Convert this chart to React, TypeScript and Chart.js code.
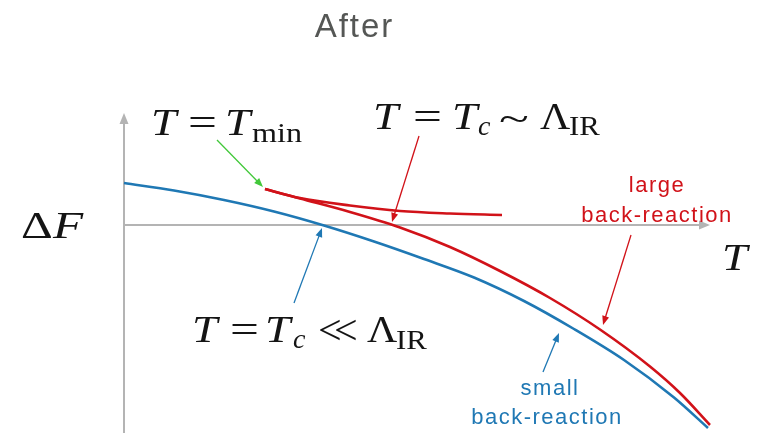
import { useEffect, useRef } from 'react';
import { Chart, registerables } from 'chart.js';

Chart.register(...registerables);

// Free-energy difference ΔF against temperature T (arbitrary units)
const smallT = [0, 0.5, 1.0, 1.5, 2.0, 2.5, 3.0, 3.5, 4.0, 4.5, 5.0, 5.5, 5.84];
const smallF = [0.42, 0.345, 0.25, 0.135, -0.005, -0.165, -0.34, -0.525, -0.76, -1.04, -1.35, -1.725, -2.03];

const largeT = [1.41, 1.76, 2.26, 2.76, 3.26, 3.76, 4.26, 4.76, 5.26, 5.56, 5.86];
const largeF = [0.36, 0.265, 0.13, -0.025, -0.22, -0.46, -0.73, -1.045, -1.415, -1.68, -2.0];

const largeUpperT = [1.41, 1.76, 2.26, 2.76, 3.26, 3.78];
const largeUpperF = [0.36, 0.27, 0.195, 0.14, 0.115, 0.1];

// Visible window of the (T, ΔF) plane
const T_MIN = -1.24;
const T_MAX = 6.37;
const F_MIN = -2.08;
const F_MAX = 2.25;
const T_AXIS_END = 5.86;
const F_AXIS_END = 1.12;

const BLUE = '#1f78b4';
const RED = '#d11219';
const GREEN = '#42c83a';
const GREY = '#b4b4b4';
const INK = '#141414';

type Arrow = { from: [number, number]; to: [number, number]; color: string };
const arrows: Arrow[] = [
  { from: [0.93, 0.85], to: [1.39, 0.38], color: GREEN },
  { from: [2.95, 0.89], to: [2.68, 0.03], color: RED },
  { from: [5.07, -0.1], to: [4.79, -1.0], color: RED },
  { from: [1.7, -0.78], to: [1.98, -0.03], color: BLUE },
  { from: [4.19, -1.47], to: [4.35, -1.08], color: BLUE },
];

const SERIF = '"Liberation Serif", "DejaVu Serif", serif';
const BIG = `38px ${SERIF}`;
const BIG_IT = `italic 38px ${SERIF}`;
const REL = `42px ${SERIF}`;
const SUB = `28px ${SERIF}`;
const SUB_IT = `italic 28px ${SERIF}`;

type Seg = { text: string; dx: number; dy?: number; sx?: number; font: string };
type MathLabel = { at: [number, number]; segs: Seg[] };

const mathLabels: MathLabel[] = [
  {
    at: [0.27, 0.9],
    segs: [
      { text: 'T', dx: 0, sx: 1.2, font: BIG_IT },
      { text: '=', dx: 37, sx: 1.35, font: BIG },
      { text: 'T', dx: 74, sx: 1.2, font: BIG_IT },
      { text: 'min', dx: 101, dy: 7, sx: 1.15, font: SUB },
    ],
  },
  {
    at: [2.49, 0.96],
    segs: [
      { text: 'T', dx: 0, sx: 1.2, font: BIG_IT },
      { text: '=', dx: 40, sx: 1.35, font: BIG },
      { text: 'T', dx: 79, sx: 1.2, font: BIG_IT },
      { text: 'c', dx: 105, dy: 6, font: SUB_IT },
      { text: '~', dx: 126, dy: 2, sx: 1.45, font: BIG },
      { text: 'Λ', dx: 167, sx: 1.1, font: BIG },
      { text: 'IR', dx: 196, dy: 6, sx: 1.1, font: SUB },
    ],
  },
  {
    at: [0.68, -1.17],
    segs: [
      { text: 'T', dx: 0, sx: 1.2, font: BIG_IT },
      { text: '=', dx: 38, sx: 1.35, font: BIG },
      { text: 'T', dx: 73, sx: 1.2, font: BIG_IT },
      { text: 'c', dx: 101, dy: 6, font: SUB_IT },
      { text: '<', dx: 126, dy: 2, font: REL },
      { text: '<', dx: 142, dy: 2, font: REL },
      { text: 'Λ', dx: 175, sx: 1.1, font: BIG },
      { text: 'IR', dx: 204, dy: 7, sx: 1.1, font: SUB },
    ],
  },
  {
    at: [-1.03, -0.13],
    segs: [
      { text: 'Δ', dx: 0, sx: 1.3, font: BIG },
      { text: 'F', dx: 32, sx: 1.3, font: BIG_IT },
    ],
  },
  {
    at: [5.98, -0.45],
    segs: [{ text: 'T', dx: 0, sx: 1.2, font: BIG_IT }],
  },
];

type Note = { text: string; at: [number, number]; color: string };
const notes: Note[] = [
  { text: 'large', at: [5.33, 0.33], color: RED },
  { text: 'back-reaction', at: [5.33, 0.03], color: RED },
  { text: 'small', at: [4.26, -1.7], color: BLUE },
  { text: 'back-reaction', at: [4.23, -1.99], color: BLUE },
];

const TITLE = 'After';

const toPoints = (xs: number[], ys: number[]) => xs.map((x, i) => ({ x, y: ys[i] }));

function arrowHead(
  ctx: CanvasRenderingContext2D,
  x0: number,
  y0: number,
  x1: number,
  y1: number,
  len: number,
  half: number
) {
  const a = Math.atan2(y1 - y0, x1 - x0);
  ctx.beginPath();
  ctx.moveTo(x1, y1);
  ctx.lineTo(x1 - len * Math.cos(a) + half * Math.sin(a), y1 - len * Math.sin(a) - half * Math.cos(a));
  ctx.lineTo(x1 - len * Math.cos(a) - half * Math.sin(a), y1 - len * Math.sin(a) + half * Math.cos(a));
  ctx.closePath();
  ctx.fill();
}

const axesPlugin = {
  id: 'axesLines',
  beforeDatasetsDraw(chart: Chart) {
    const { ctx, scales } = chart;
    const xs = scales.x;
    const ys = scales.y;
    const ox = xs.getPixelForValue(0);
    const oy = ys.getPixelForValue(0);
    const xEnd = xs.getPixelForValue(T_AXIS_END);
    const yEnd = ys.getPixelForValue(F_AXIS_END);
    const bottom = ys.getPixelForValue(F_MIN);
    ctx.save();
    ctx.strokeStyle = GREY;
    ctx.fillStyle = GREY;
    ctx.lineWidth = 2;
    ctx.beginPath();
    ctx.moveTo(ox, oy);
    ctx.lineTo(xEnd - 8, oy);
    ctx.moveTo(ox, bottom);
    ctx.lineTo(ox, yEnd + 8);
    ctx.stroke();
    arrowHead(ctx, ox, oy, xEnd, oy, 11, 4.5);
    arrowHead(ctx, ox, bottom, ox, yEnd, 11, 4.5);
    ctx.restore();
  },
  afterDatasetsDraw(chart: Chart) {
    const { ctx, scales } = chart;
    const px = (t: number) => scales.x.getPixelForValue(t);
    const py = (f: number) => scales.y.getPixelForValue(f);
    ctx.save();

    // pointer arrows
    for (const a of arrows) {
      const x0 = px(a.from[0]);
      const y0 = py(a.from[1]);
      const x1 = px(a.to[0]);
      const y1 = py(a.to[1]);
      const ang = Math.atan2(y1 - y0, x1 - x0);
      ctx.strokeStyle = a.color;
      ctx.fillStyle = a.color;
      ctx.lineWidth = 1.3;
      ctx.beginPath();
      ctx.moveTo(x0, y0);
      ctx.lineTo(x1 - 6 * Math.cos(ang), y1 - 6 * Math.sin(ang));
      ctx.stroke();
      arrowHead(ctx, x0, y0, x1, y1, 9, 3.5);
    }

    // formulas
    ctx.fillStyle = INK;
    ctx.textAlign = 'left';
    ctx.textBaseline = 'alphabetic';
    for (const m of mathLabels) {
      const x = px(m.at[0]);
      const y = py(m.at[1]);
      for (const s of m.segs) {
        ctx.save();
        ctx.font = s.font;
        ctx.translate(x + s.dx, y + (s.dy ?? 0));
        ctx.scale(s.sx ?? 1, 1);
        ctx.fillText(s.text, 0, 0);
        ctx.restore();
      }
    }

    // curve notes
    ctx.textAlign = 'center';
    ctx.font = '22px "Liberation Sans", Arial, sans-serif';
    (ctx as any).letterSpacing = '1.5px';
    for (const n of notes) {
      ctx.fillStyle = n.color;
      ctx.fillText(n.text, px(n.at[0]), py(n.at[1]));
    }

    // heading
    ctx.fillStyle = '#555755';
    ctx.font = '33px "Liberation Sans", Arial, sans-serif';
    (ctx as any).letterSpacing = '2px';
    ctx.fillText(TITLE, chart.width / 2 - 26, 37);
    ctx.restore();
  },
};

export default function App() {
  const canvasRef = useRef<HTMLCanvasElement | null>(null);

  useEffect(() => {
    document.body.style.margin = '0';
    document.body.style.background = '#ffffff';
    const canvas = canvasRef.current;
    if (!canvas) return;
    const lineStyle = {
      borderWidth: 2.6,
      pointRadius: 0,
      pointHoverRadius: 0,
      showLine: true,
      fill: false,
      tension: 0.4,
      cubicInterpolationMode: 'monotone' as const,
    };
    const chart = new Chart(canvas, {
      type: 'scatter',
      data: {
        datasets: [
          { label: 'small back-reaction', data: toPoints(smallT, smallF), borderColor: BLUE, backgroundColor: BLUE, ...lineStyle },
          { label: 'large back-reaction', data: toPoints(largeT, largeF), borderColor: RED, backgroundColor: RED, ...lineStyle },
          { label: 'large back-reaction (upper)', data: toPoints(largeUpperT, largeUpperF), borderColor: RED, backgroundColor: RED, ...lineStyle },
        ],
      },
      options: {
        responsive: false,
        animation: false,
        devicePixelRatio: 1,
        layout: { padding: 0 },
        plugins: { legend: { display: false }, tooltip: { enabled: false }, title: { display: false } },
        scales: {
          x: { type: 'linear', display: false, min: T_MIN, max: T_MAX },
          y: { type: 'linear', display: false, min: F_MIN, max: F_MAX },
        },
      },
      plugins: [axesPlugin],
    });
    return () => chart.destroy();
  }, []);

  return <canvas ref={canvasRef} width={761} height={433} style={{ display: 'block' }} />;
}
